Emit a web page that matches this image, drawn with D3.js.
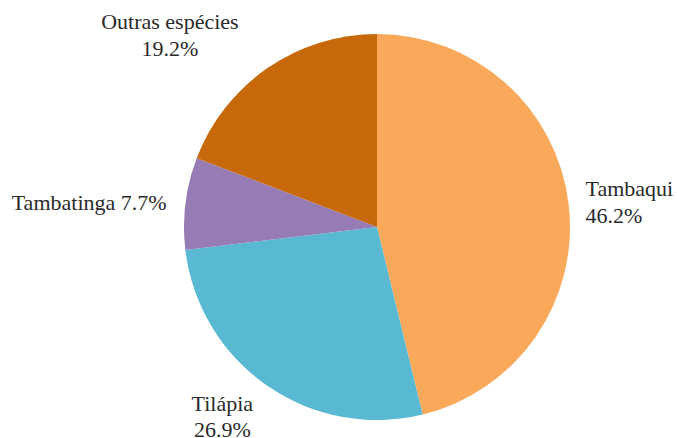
<!DOCTYPE html>
<html>
<head>
<meta charset="utf-8">
<script src="https://cdn.jsdelivr.net/npm/d3@7"></script>
<style>
  html, body { margin: 0; padding: 0; background: #ffffff; }
  svg { display: block; }
</style>
</head>
<body>
<svg id="chart" width="677" height="438"></svg>
<script>
// Data
const categories = ["Tambaqui", "Tilápia", "Tambatinga", "Outras espécies"];
const values = [46.2, 26.9, 7.7, 19.2];
const percentLabels = ["46.2%", "26.9%", "7.7%", "19.2%"];
const colors = ["#FAA85A", "#59B9D3", "#977BB5", "#C7690A"];

// Layout (label placement relative to arc point)
const labelLayout = [
  { anchor: "start",  dx: 0,   dy: -6,  oneLine: false },
  { anchor: "middle", dx: -35, dy: 11,  oneLine: false },
  { anchor: "end",    dx: -2,  dy: 9,   oneLine: true },
  { anchor: "middle", dx: -88, dy: -25, oneLine: false }
];

const cx = 377, cy = 227, R = 193, labelR = 210;

const svg = d3.select("#chart");
const g = svg.append("g").attr("transform", `translate(${cx},${cy})`);

const pie = d3.pie().sort(null).value(d => d.value);
const data = categories.map((c, i) => ({ name: c, value: values[i], pct: percentLabels[i], color: colors[i], layout: labelLayout[i] }));
const arcs = pie(data);

const arc = d3.arc().innerRadius(0).outerRadius(R);
const labelArc = d3.arc().innerRadius(labelR).outerRadius(labelR);

g.selectAll("path.slice")
  .data(arcs)
  .enter()
  .append("path")
  .attr("class", "slice")
  .attr("d", arc)
  .attr("fill", d => d.data.color);

const lineH = 26.5;
g.selectAll("text.lbl")
  .data(arcs)
  .enter()
  .append("text")
  .attr("class", "lbl")
  .attr("font-family", "Liberation Serif")
  .attr("font-size", 22)
  .attr("fill", "#2a2a2a")
  .attr("text-anchor", d => d.data.layout.anchor)
  .each(function(d) {
    const p = labelArc.centroid(d);
    const L = d.data.layout;
    const x = p[0] + L.dx, y = p[1] + L.dy;
    const t = d3.select(this);
    if (L.oneLine) {
      t.append("tspan").attr("x", x).attr("y", y).text(d.data.name + " " + d.data.pct);
    } else {
      t.append("tspan").attr("x", x).attr("y", y).text(d.data.name);
      t.append("tspan").attr("x", x).attr("y", y + lineH).text(d.data.pct);
    }
  });
</script>
</body>
</html>
